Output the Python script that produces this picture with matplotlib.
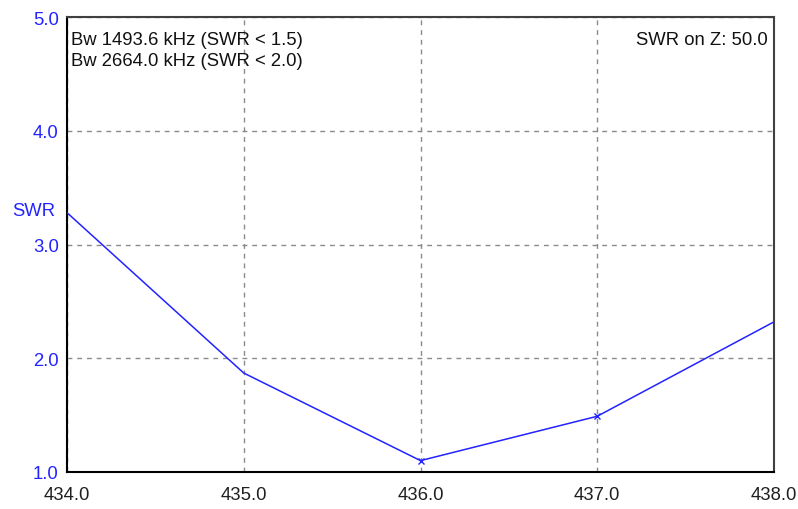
import matplotlib
matplotlib.use("Agg")
import matplotlib.pyplot as plt

plt.rcParams['font.family'] = ['Liberation Sans', 'DejaVu Sans']

freq_mhz = [434.0, 435.0, 436.0, 437.0, 438.0]
swr = [3.28, 1.87, 1.10, 1.49, 2.32]
marked_freq = [436.0, 437.0]
marked_swr = [1.10, 1.49]
x_ticks = [434.0, 435.0, 436.0, 437.0, 438.0]
y_ticks = [1.0, 2.0, 3.0, 4.0, 5.0]
bw_lines = ["Bw 1493.6 kHz (SWR < 1.5)", "Bw 2664.0 kHz (SWR < 2.0)"]
z_label = "SWR on Z: 50.0"

blue = '#2323ff'
fs = 13.3

fig = plt.figure(figsize=(7.98, 5.10), dpi=100)
ax = fig.add_axes([67/798, 1 - 473/510, (774 - 67)/798, (473 - 18)/510])

ax.plot(freq_mhz, swr, color=blue, lw=1.1, zorder=3)
ax.plot(marked_freq, marked_swr, ls='none', marker='x', ms=5, mew=1.0,
        color=blue, zorder=3)

ax.set_xlim(x_ticks[0], x_ticks[-1])
ax.set_ylim(y_ticks[0], y_ticks[-1])
ax.set_xticks(x_ticks)
ax.set_yticks(y_ticks)
ax.set_xticklabels([f"{v:.1f}" for v in x_ticks], fontsize=fs, color='#202020')
ax.set_yticklabels([f"{v:.1f}" for v in y_ticks], fontsize=fs, color=blue)
ax.tick_params(length=0, pad=6)
ax.tick_params(axis='x', pad=10)

ax.grid(True, color='#8a8a8a', ls=(0, (3.5, 3.5)), lw=1.0)
for s in ax.spines.values():
    s.set_color('#404040')
    s.set_linewidth(1.5)
ax.spines['left'].set_color('black')
ax.spines['bottom'].set_color('black')

ax.text(4/707, 1 - 14/455, bw_lines[0], transform=ax.transAxes,
        fontsize=fs, va='top', ha='left', color='#111111')
ax.text(4/707, 1 - 35/455, bw_lines[1], transform=ax.transAxes,
        fontsize=fs, va='top', ha='left', color='#111111')
ax.text(1 - 6/707, 1 - 14/455, z_label, transform=ax.transAxes,
        fontsize=fs, va='top', ha='right', color='#111111')

fig.text(12/798, 1 - 212/510, "SWR", fontsize=fs, color=blue,
         ha='left', va='center')

fig.savefig("out.png", dpi=100)
